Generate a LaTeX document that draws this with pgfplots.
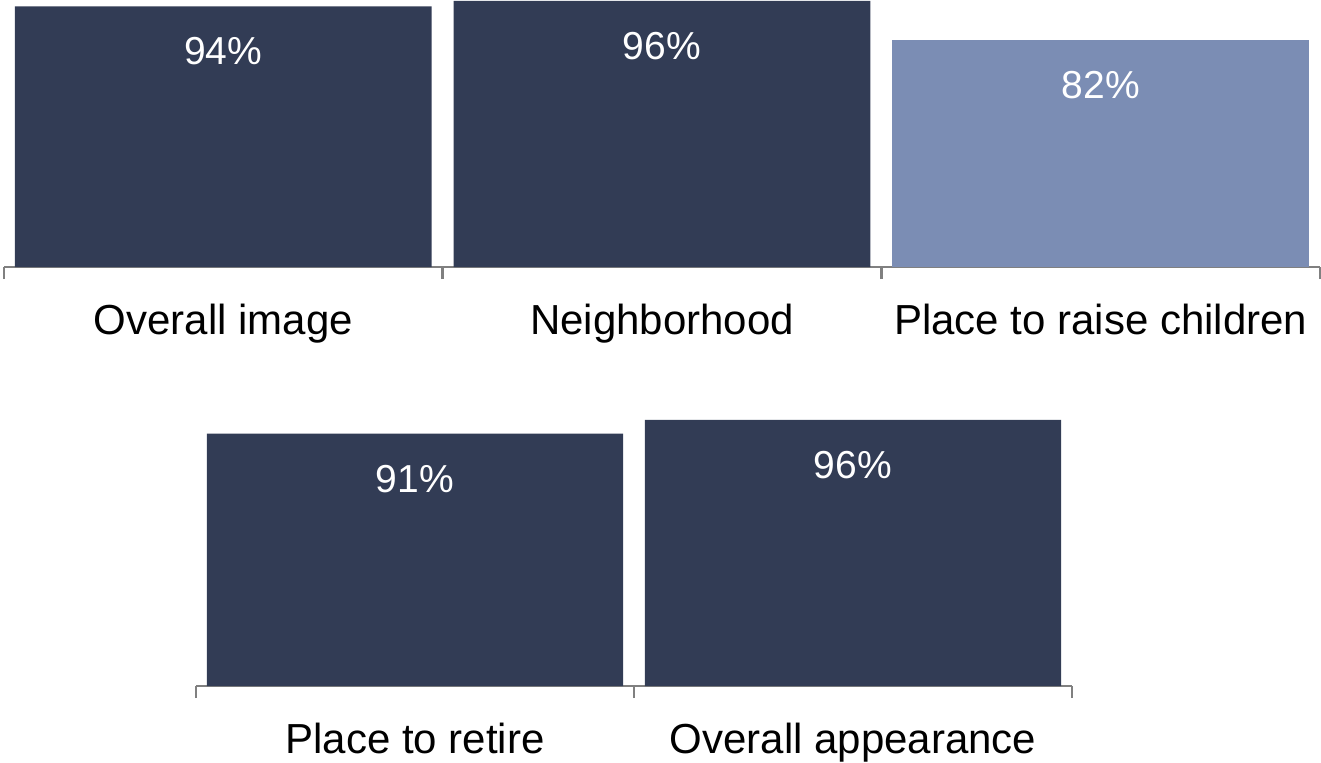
\documentclass[border=0pt]{standalone}
\usepackage{pgfplots}
\pgfplotsset{compat=1.18}
\usepackage{fontspec}
\setmainfont{Liberation Sans}
\definecolor{navy}{HTML}{323C55}
\definecolor{steel}{HTML}{7B8DB4}
\begin{document}
\begin{tikzpicture}
\useasboundingbox (0,0) rectangle (660.5pt,381pt);
\pgfplotsset{
 rowstyle/.style={
  scale only axis, height=133.5pt, ymin=0, ymax=96.3,
  axis x line=bottom, axis y line=none,
  x axis line style={-, draw=gray, line width=1pt},
  ybar, bar shift=0pt, bar width=0.95,
  xtick={0,1,2}, major tick length=0pt,
  tick align=outside,
  minor tick length=6pt,
  every minor tick/.style={gray, line width=1.2pt},
  xticklabel style={font=\fontsize{21}{25}\selectfont, yshift=-15pt},
  nodes near coords={\pgfmathprintnumber{\pgfplotspointmeta}\%},
  every node near coord/.append style={anchor=center, yshift=-22.5pt, text=white, font=\fontsize{19.5}{23}\selectfont},
  /pgf/number format/assume math mode=true,
  clip=false,
 }
}
\begin{axis}[rowstyle, width=658pt, xmin=-0.5, xmax=2.5,
  at={(2pt,247.5pt)}, anchor=south west,
  minor xtick={-0.5,0.5,1.5,2.5},
  xticklabels={Overall image, Neighborhood, Place to raise children}]
\addplot[fill=navy, draw=none] coordinates {(0,94) (1,96)};
\addplot[fill=steel, draw=none] coordinates {(2,82)};
\end{axis}
\begin{axis}[rowstyle, width=438pt, xmin=-0.5, xmax=1.5,
  at={(98pt,38pt)}, anchor=south west,
  minor xtick={-0.5,0.5,1.5},
  xtick={0,1},
  xticklabels={Place to retire, Overall appearance}]
\addplot[fill=navy, draw=none] coordinates {(0,91) (1,96)};
\end{axis}
\end{tikzpicture}
\end{document}
